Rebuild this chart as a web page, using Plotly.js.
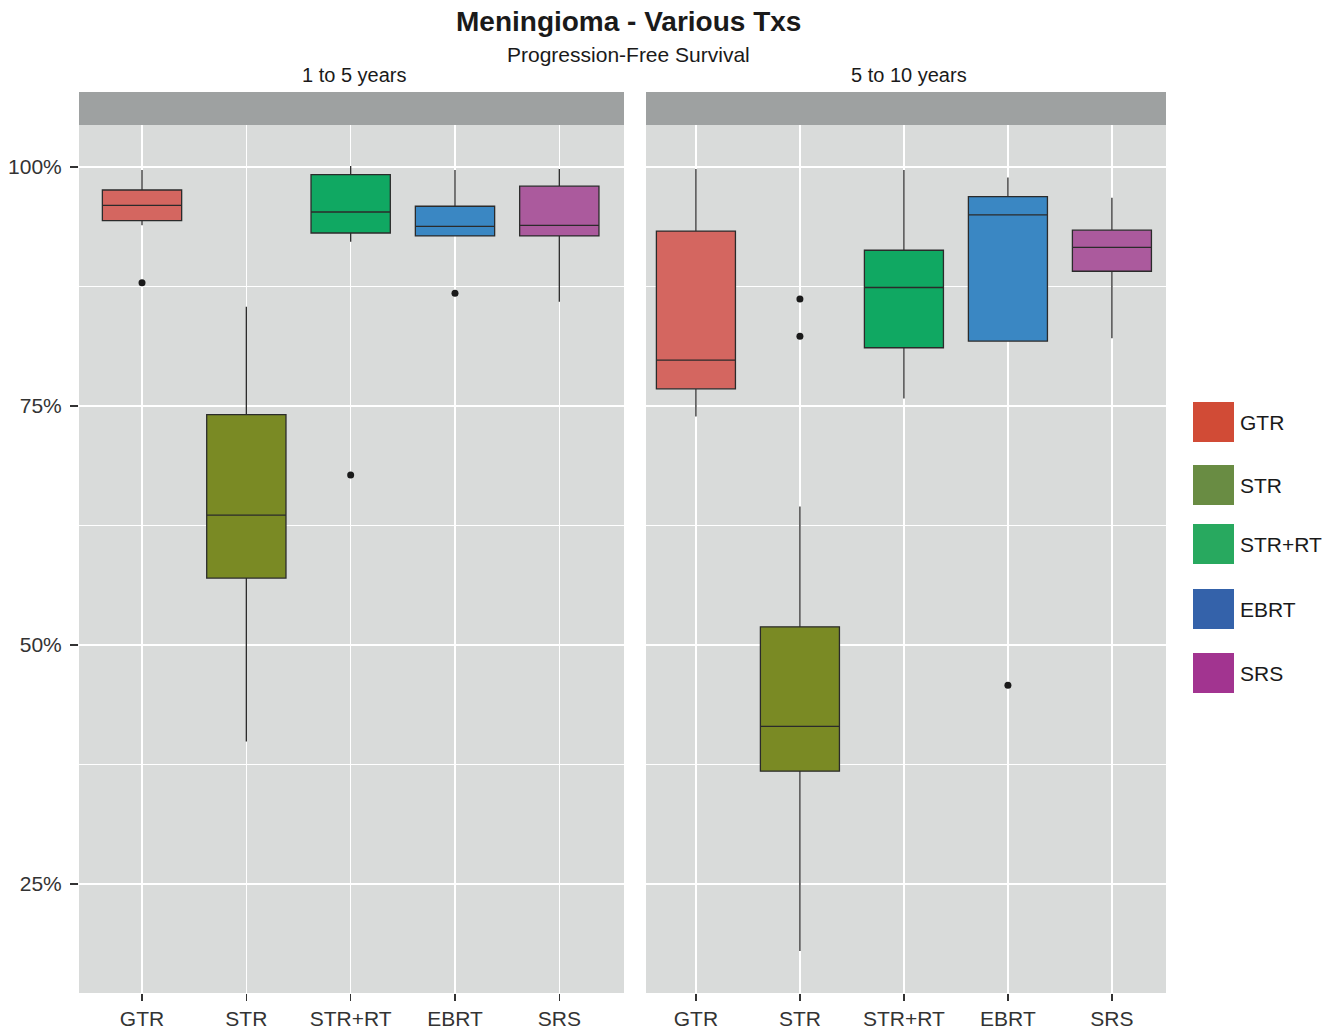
<!DOCTYPE html>
<html>
<head>
<meta charset="utf-8">
<script src="https://cdn.plot.ly/plotly-3.0.1.min.js"></script>
<style>html,body{margin:0;padding:0;background:#fff;}#chart{width:1335px;height:1030px;}</style>
</head>
<body>
<div id="chart"></div>
<script>
// ---- data ----
const categories = ["GTR", "STR", "STR+RT", "EBRT", "SRS"];
const facets = ["1 to 5 years", "5 to 10 years"];

// 1 to 5 years (PFS %)
const lower1  = [93.9, 39.9, 92.2, 92.8, 85.9];
const q1_1    = [94.4, 57.0, 93.1, 92.8, 92.8];
const median1 = [96.0, 63.6, 95.3, 93.8, 93.9];
const q3_1    = [97.6, 74.1, 99.2, 95.9, 98.0];
const upper1  = [99.7, 85.4, 100.1, 99.7, 99.8];
const outCat1 = ["GTR", "STR+RT", "EBRT"];
const outVal1 = [87.9, 67.8, 86.8];

// 5 to 10 years (PFS %)
const lower2  = [73.9, 18.0, 75.8, 81.8, 82.1];
const q1_2    = [76.8, 36.8, 81.1, 81.8, 89.1];
const median2 = [79.8, 41.5, 87.4, 95.0, 91.6];
const q3_2    = [93.3, 51.9, 91.3, 96.9, 93.4];
const upper2  = [99.8, 64.5, 99.7, 98.9, 96.8];
const outCat2 = ["STR", "STR", "EBRT"];
const outVal2 = [86.2, 82.3, 45.8];

const yTickVals = [25, 50, 75, 100];
const yTickText = ["25%", "50%", "75%", "100%"];

const boxColors = ["#D46660", "#7A8A24", "#10A862", "#3A87C3", "#AB5A9D"];
const legendColors = ["#D14B36", "#698C43", "#28A95F", "#3462AA", "#A23490"];

// ---- layout helpers ----
const L = 79, R = 1166, T = 92, B = 993;
const px = x => (x - L) / (R - L);
const py = y => (B - y) / (B - T);

const traces = [];
function addFacet(lo, q1, med, q3, up, oc, ov, xa, ya) {
  categories.forEach((c, i) => {
    traces.push({
      type: "box", xaxis: xa, yaxis: ya,
      x: [i], lowerfence: [lo[i]], q1: [q1[i]], median: [med[i]], q3: [q3[i]], upperfence: [up[i]],
      width: 0.76, whiskerwidth: 0,
      fillcolor: boxColors[i],
      line: {color: "#2b2b2b", width: 1.3},
      boxpoints: false, showlegend: false, hoverinfo: "skip"
    });
  });
  traces.push({
    type: "scatter", mode: "markers", xaxis: xa, yaxis: ya,
    x: oc.map(c => categories.indexOf(c)), y: ov,
    marker: {color: "#1a1a1a", size: 7},
    showlegend: false, hoverinfo: "skip"
  });
}
addFacet(lower1, q1_1, median1, q3_1, upper1, outCat1, outVal1, "x", "y");
addFacet(lower2, q1_2, median2, q3_2, upper2, outCat2, outVal2, "x2", "y2");

const yRange = [13.6, 104.4];
const yDomainTop = py(125);
const font = "Liberation Sans, Arial, Helvetica, sans-serif";

function yAxis(showLabels, anchor) {
  return {
    domain: [0, yDomainTop], range: yRange, anchor: anchor,
    tickmode: "array", tickvals: yTickVals, ticktext: yTickText,
    showticklabels: showLabels, ticks: showLabels ? "outside" : "", ticklen: 8, tickcolor: "#333", tickwidth: 1.2,
    ticklabelstandoff: 4,
    tickfont: {family: font, size: 21, color: "#333"},
    showgrid: true, gridcolor: "#ffffff", gridwidth: 1.5,
    minor: {tickmode: "array", tickvals: [37.5, 62.5, 87.5], showgrid: true, gridcolor: "#ffffff", gridwidth: 1, ticks: ""},
    zeroline: false, showline: false, fixedrange: true
  };
}
function xAxis(domain, range, anchor) {
  return {
    domain: domain, range: range, anchor: anchor,
    tickmode: "array", tickvals: categories.map((c, i) => i), ticktext: categories,
    ticks: "outside", ticklen: 7, tickcolor: "#333", tickwidth: 1.2,
    tickfont: {family: font, size: 21, color: "#333"},
    showgrid: true, gridcolor: "#ffffff", gridwidth: 1.5,
    zeroline: false, showline: false, fixedrange: true
  };
}

const shapes = [
  {type: "rect", xref: "paper", yref: "paper", x0: px(79), x1: px(624), y0: py(125), y1: py(92), fillcolor: "#9EA1A1", line: {width: 0}, layer: "below"},
  {type: "rect", xref: "paper", yref: "paper", x0: px(646), x1: px(1166), y0: py(125), y1: py(92), fillcolor: "#9EA1A1", line: {width: 0}, layer: "below"}
];
const legendTops = [402, 465, 524, 589, 653];
const annotations = [
  {text: "<b>Meningioma - Various Txs</b>", xref: "paper", yref: "paper", x: px(628), y: py(22), showarrow: false, xanchor: "center", yanchor: "middle", font: {family: font, size: 28, color: "#1a1a1a"}},
  {text: "Progression-Free Survival", xref: "paper", yref: "paper", x: px(628), y: py(55), showarrow: false, xanchor: "center", yanchor: "middle", font: {family: font, size: 21, color: "#1a1a1a"}},
  {text: facets[0], xref: "paper", yref: "paper", x: px(354), y: py(75), showarrow: false, xanchor: "center", yanchor: "middle", font: {family: font, size: 20, color: "#1a1a1a"}},
  {text: facets[1], xref: "paper", yref: "paper", x: px(909), y: py(75), showarrow: false, xanchor: "center", yanchor: "middle", font: {family: font, size: 20, color: "#1a1a1a"}}
];
categories.forEach((c, i) => {
  const t = legendTops[i];
  shapes.push({type: "rect", xref: "paper", yref: "paper", x0: px(1193), x1: px(1234), y0: py(t + 40), y1: py(t), fillcolor: legendColors[i], line: {width: 0}});
  annotations.push({text: c, xref: "paper", yref: "paper", x: px(1238), y: py(t + 20), showarrow: false, xanchor: "left", yanchor: "middle", font: {family: font, size: 21, color: "#1a1a1a"}});
});

const layout = {
  width: 1335, height: 1030,
  margin: {l: L, r: 1335 - R, t: T, b: 1030 - B, pad: 0},
  paper_bgcolor: "#ffffff", plot_bgcolor: "#D9DBDA",
  showlegend: false, boxmode: "overlay",
  xaxis: xAxis([0, px(624)], [-0.604, 4.62], "y"),
  xaxis2: xAxis([px(646), 1], [-0.48, 4.52], "y2"),
  yaxis: yAxis(true, "x"),
  yaxis2: yAxis(false, "x2"),
  shapes: shapes, annotations: annotations
};

Plotly.newPlot("chart", traces, layout, {displayModeBar: false, staticPlot: true});
</script>
</body>
</html>
